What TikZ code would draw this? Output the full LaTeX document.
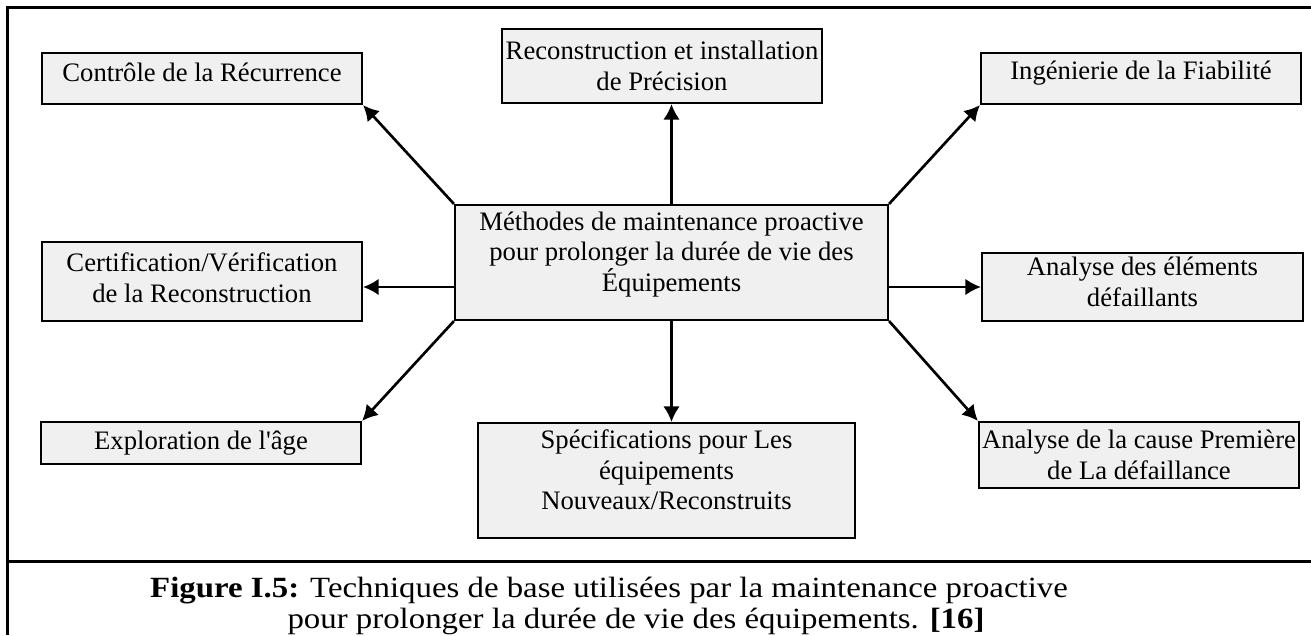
\documentclass[tikz,border=0pt]{standalone}
\usepackage{fontspec}
\setmainfont{Liberation Serif}
\usepackage{tikz}
\usetikzlibrary{arrows.meta}
\usetikzlibrary{calc}
\definecolor{fondbloc}{gray}{0.94}

\begin{document}
\begin{tikzpicture}[x=0.45pt,y=-0.45pt,
        bloc/.style={draw, fill=fondbloc, line width=0.95pt, inner sep=0pt, align=center,
            font=\fontsize{12}{13.8}\selectfont},
        fleche/.style={->, line width=1.2pt},
        legende/.style={font=\fontsize{13.2}{15}\selectfont, inner sep=0pt},
        >={Latex[length=7pt,width=7.5pt]}]
        \useasboundingbox (0,0) rectangle (1311,635);

        % cadre de la figure
        \draw[line width=1.35pt] (7,635) -- (7,8) -- (1311,8);
        \draw[line width=1.35pt] (7,561) -- (1311,561);

        % bloc central
        \node[bloc, minimum width=194.85pt, minimum height=51.75pt, text depth=9.8pt] (centre) at (671.5,262.5)
            {M\'ethodes de maintenance proactive\\pour prolonger la dur\'ee de vie des\\\'Equipements};

        % blocs de gauche
        \node[bloc, minimum width=144pt, minimum height=22.95pt, text depth=5.4pt] (ctrl) at (202,78.5)
            {Contr\^ole de la R\'ecurrence};
        \node[bloc, minimum width=144pt, minimum height=35.55pt, text depth=3.6pt] (certif) at (202,281.5)
            {Certification/V\'erification\\de la Reconstruction};
        \node[bloc, minimum width=144pt, minimum height=18.9pt] (explor) at (201,443)
            {Exploration de l\textquotesingle\^age};

        % blocs du milieu
        \node[bloc, minimum width=144pt, minimum height=33.3pt] (recon) at (662,66)
            {Reconstruction et installation\\de Pr\'ecision};
        \node[bloc, minimum width=169.65pt, minimum height=51.75pt, text depth=9.8pt] (spec) at (666.5,480.5)
            {Sp\'ecifications pour Les\\\'equipements\\Nouveaux/Reconstruits};

        % blocs de droite
        \node[bloc, minimum width=144pt, minimum height=22.95pt, text depth=7.1pt] (fiab) at (1141,78.5)
            {Ing\'enierie de la Fiabilit\'e};
        \node[bloc, minimum width=144.45pt, minimum height=30.6pt, text depth=4.5pt] (elem) at (1142.5,287)
            {Analyse des \'el\'ements\\d\'efaillants};
        \node[bloc, minimum width=144pt, minimum height=29.7pt] (cause) at (1139,455)
            {Analyse de la cause Premi\`ere\\de La d\'efaillance};

        % fleches
        \draw[fleche] (centre.north west) -- (ctrl.south east);
        \draw[fleche] (centre.west |- elem) -- (certif.east |- elem);
        \draw[fleche] (centre.south west) -- (explor.north east);
        \draw[fleche] (centre.north) -- (centre.north |- recon.south);
        \draw[fleche] (centre.south) -- (centre.south |- spec.north);
        \draw[fleche] (centre.north east) -- (fiab.south west);
        \draw[fleche] (centre.east |- elem) -- (elem.west);
        \draw[fleche] (centre.south east) -- (cause.north west);

        % legende
        \node[legende] (leg1) at (609,591)
            {\scalebox{1.12}[1]{\textbf{Figure I.5:} Techniques de base utilis\'ees par la maintenance proactive}};
        \node[legende] (leg2) at (636,621)
            {\scalebox{1.12}[1]{pour prolonger la dur\'ee de vie des \'equipements. \textbf{[16]}}};
    \end{tikzpicture}
\end{document}
